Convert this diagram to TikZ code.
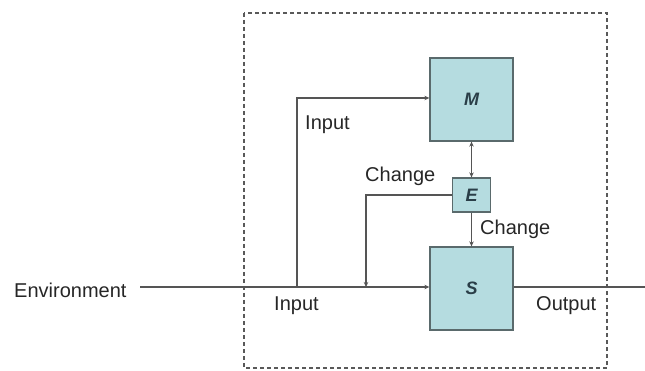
\documentclass[tikz,border=0pt]{standalone}
\usepackage{fontspec}
\setmainfont{Liberation Sans}
\usetikzlibrary{arrows.meta}
\definecolor{boxfill}{HTML}{B5DCE0}
\definecolor{boxline}{HTML}{5A6A6C}
\definecolor{lin}{HTML}{555555}
\definecolor{boxtext}{HTML}{2A3E48}
\begin{document}
\begin{tikzpicture}[x=1pt,y=-1pt,
  blk/.style={draw=boxline,line width=1.3pt,fill=boxfill,inner sep=0pt,font=\fontsize{18}{20}\selectfont\bfseries\itshape,text=boxtext},
  conn/.style={draw=lin,line width=1.3pt},
  arr/.style={-{Stealth[length=5pt,width=4.5pt]}},
  lbl/.style={font=\fontsize{20}{23}\selectfont,text=black!85,inner sep=0pt}]
\useasboundingbox (0,0) rectangle (645,371);
\draw[gray!70!black,line width=1.3pt,dash pattern=on 4pt off 3pt] (244,13) rectangle (607,368);
\node[blk,minimum width=83pt,minimum height=83pt] (M) at (471.5,99.5) {M};
\node[blk,minimum width=38pt,minimum height=34pt] (E) at (471.5,195) {E};
\node[blk,minimum width=83pt,minimum height=83pt] (S) at (471.5,288.5) {S};
\node[lbl,anchor=west] (env) at (14,290) {Environment};
\coordinate (envend) at (140,287);
\coordinate (split) at (297,287);
\coordinate (merge) at (366,287);
\coordinate (outend) at (645,287);
\coordinate (ctop) at (366,195);
\coordinate (itop) at (297,98);
\draw[conn] (envend) -- (merge);
\draw[conn,arr] (merge) -- (S.west |- merge);
\draw[conn,arr] (split) -- (itop) -- (M.west |- itop);
\draw[conn,arr] (E.west) -- (ctop) -- (merge);
\draw[conn,{Stealth[length=5pt,width=4.5pt]}-{Stealth[length=5pt,width=4.5pt]}] (M.south) -- (E.north);
\draw[conn,arr] (E.south) -- (S.north);
\draw[conn] (S.east |- outend) -- (outend);
\node[lbl,anchor=west] (in1) at (305,125) {Input};
\node[lbl,anchor=west] (ch1) at (365,176) {Change};
\node[lbl,anchor=west] (ch2) at (480,229) {Change};
\node[lbl,anchor=west] (in2) at (274,306) {Input};
\node[lbl,anchor=west] (out) at (536,306) {Output};
\end{tikzpicture}
\end{document}
